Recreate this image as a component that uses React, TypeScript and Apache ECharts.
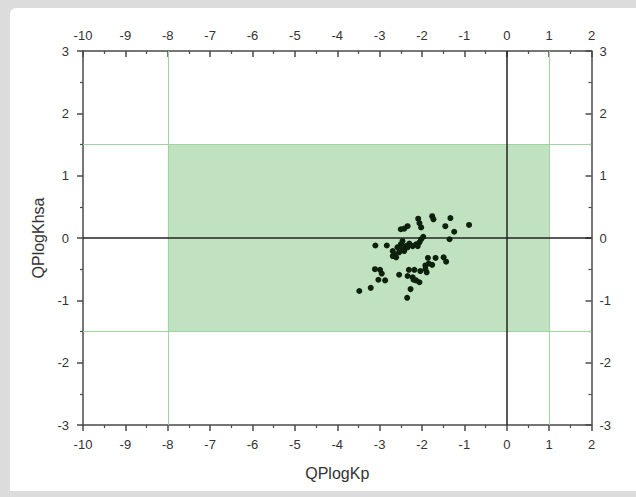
import React, { useEffect, useRef } from "react";
import * as echarts from "echarts";

const xValues = [
  -3.48, -3.21, -3.1, -2.83, -3.11, -2.99, -2.95, -3.03, -2.87, -2.54,
  -2.35, -2.27, -2.31, -2.18, -2.04, -2.34, -2.22, -2.14, -2.06, -2.2,
  -1.92, -1.84, -1.76, -1.86, -1.68, -1.89, -1.92, -1.49, -1.43, -1.35,
  -1.24, -1.45, -1.33, -0.89, -1.76, -1.73, -2.09, -2.06, -2.02, -2.34,
  -2.42, -2.5, -2.69, -2.65, -2.61, -2.58, -2.5, -2.46, -2.42, -2.38,
  -2.34, -2.3, -2.54, -2.22, -2.14, -2.06, -2.02, -1.97, -2.1, -2.46,
  -2.69,
];
const yValues = [
  -0.85, -0.8, -0.12, -0.12, -0.5, -0.51, -0.57, -0.67, -0.68, -0.59,
  -0.96, -0.82, -0.51, -0.51, -0.53, -0.61, -0.63, -0.68, -0.71, -0.67,
  -0.44, -0.41, -0.43, -0.32, -0.32, -0.55, -0.5, -0.31, -0.38, -0.02,
  0.1, 0.19, 0.32, 0.21, 0.35, 0.3, 0.31, 0.24, 0.17, 0.19,
  0.15, 0.14, -0.21, -0.26, -0.31, -0.15, -0.1, -0.18, -0.21, -0.13,
  -0.15, -0.09, -0.23, -0.13, -0.1, -0.07, -0.02, 0.02, -0.13, -0.05,
  -0.29,
];

const xRange = [-10, 2];
const yRange = [-3, 3];
const boxX = [-8, 1];
const boxY = [-1.5, 1.5];
const xTitle = "QPlogKp";
const yTitle = "QPlogKhsa";

export default function App() {
  const ref = useRef<HTMLDivElement>(null);
  useEffect(() => {
    if (!ref.current) return;
    const chart = echarts.init(ref.current, undefined, { renderer: "svg" });
    const axisColor = "#4a4a4a";
    const labelColor = "#333";
    const font = "Liberation Sans, Arial, sans-serif";
    const base = (min: number, max: number) => ({
      type: "value" as const,
      min,
      max,
      interval: 1,
      axisLine: { show: true, onZero: false, lineStyle: { color: axisColor, width: 1.5 } },
      axisTick: { show: true, length: 6, lineStyle: { color: axisColor, width: 1.5 } },
      minorTick: { show: true, splitNumber: 2, length: 3, lineStyle: { color: axisColor, width: 1.2 } },
      splitLine: { show: false },
      axisLabel: { color: labelColor, fontSize: 13, fontFamily: font, margin: 8 },
    });
    const xBase = base(xRange[0], xRange[1]);
    const yBase = base(yRange[0], yRange[1]);
    const data = xValues.map((x, i) => [x, yValues[i]]);
    const greenLine = { color: "#9fd39f", width: 1, type: "solid" as const };
    chart.setOption({
      animation: false,
      backgroundColor: "#dcdcdc",
      graphic: [
        {
          type: "rect",
          shape: { x: 10, y: 8, width: 640, height: 483, r: [6, 0, 0, 0] },
          style: { fill: "#ffffff" },
          z: -10,
          silent: true,
        },
      ],
      grid: { left: 83, right: 44.5, top: 51, bottom: 72, containLabel: false },
      xAxis: [
        {
          ...xBase,
          position: "bottom",
          name: xTitle,
          nameLocation: "middle",
          nameGap: 40,
          nameTextStyle: { color: labelColor, fontSize: 16, fontFamily: font },
          axisTick: { ...xBase.axisTick, inside: false },
          axisLabel: { ...xBase.axisLabel, margin: 13 },
        },
        {
          ...xBase,
          position: "top",
          axisTick: { ...xBase.axisTick, inside: true },
          minorTick: { ...xBase.minorTick },
          axisLabel: { ...xBase.axisLabel, margin: 9 },
        },
      ],
      yAxis: [
        {
          ...yBase,
          position: "left",
          name: yTitle,
          nameLocation: "middle",
          nameGap: 36,
          nameTextStyle: { color: labelColor, fontSize: 16, fontFamily: font },
          axisTick: { ...yBase.axisTick, inside: false },
          axisLabel: { ...yBase.axisLabel, margin: 14 },
        },
        {
          ...yBase,
          position: "right",
          axisTick: { ...yBase.axisTick, inside: true },
          axisLabel: { ...yBase.axisLabel, margin: 8 },
        },
      ],
      series: [
        {
          type: "scatter",
          xAxisIndex: 0,
          yAxisIndex: 0,
          data: [],
          silent: true,
          markArea: {
            silent: true,
            itemStyle: { color: "#c1e2c0" },
            data: [[{ coord: [boxX[0], boxY[0]] }, { coord: [boxX[1], boxY[1]] }]],
          },
          markLine: {
            silent: true,
            symbol: ["none", "none"],
            label: { show: false },
            lineStyle: greenLine,
            data: [
              { xAxis: boxX[0] },
              { xAxis: boxX[1] },
              { yAxis: boxY[0] },
              { yAxis: boxY[1] },
            ],
          },
          z: 1,
        },
        {
          type: "scatter",
          xAxisIndex: 0,
          yAxisIndex: 0,
          data: [],
          silent: true,
          markLine: {
            silent: true,
            symbol: ["none", "none"],
            label: { show: false },
            lineStyle: { color: "#222", width: 1.5, type: "solid" },
            data: [{ xAxis: 0 }, { yAxis: 0 }],
          },
          z: 2,
        },
        {
          type: "scatter",
          xAxisIndex: 0,
          yAxisIndex: 0,
          data,
          symbolSize: 6,
          itemStyle: { color: "#0c200c", opacity: 1 },
          z: 5,
        },
      ],
    });
    return () => chart.dispose();
  }, []);
  return (
    <div
      ref={ref}
      style={{ position: "fixed", left: 0, top: 0, width: 636, height: 497 }}
    />
  );
}
